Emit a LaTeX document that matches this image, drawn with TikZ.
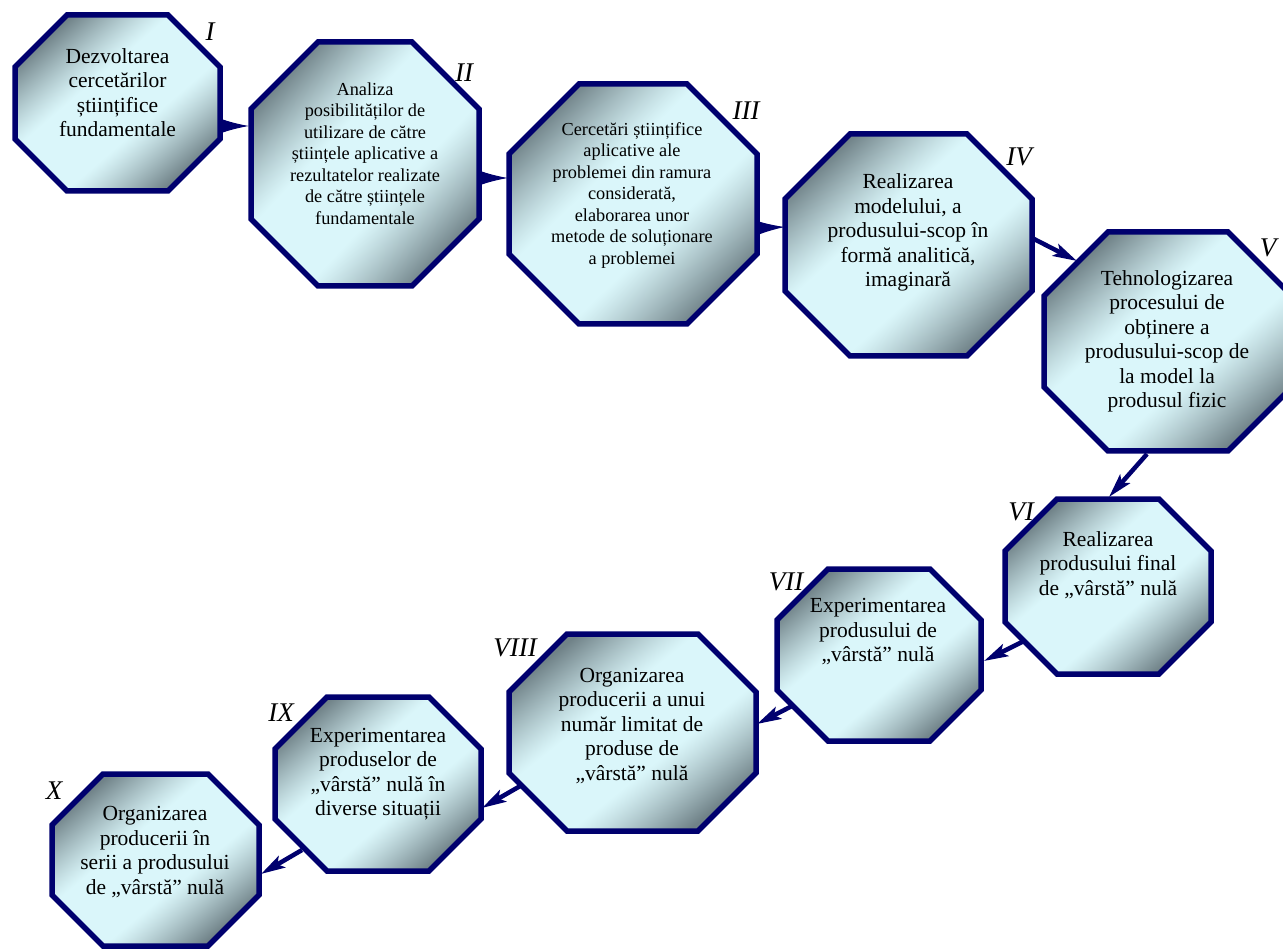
\documentclass[tikz,border=0pt]{standalone}
\usepackage{fontspec}
\setmainfont{Liberation Serif}
\usetikzlibrary{arrows.meta}
\definecolor{navy}{RGB}{0,0,110}
% light (218,246,250) -> dark (112,130,136) across the diagonal x-y
\pgfdeclarefunctionalshading{octsh}{\pgfpointorigin}{\pgfpoint{100bp}{100bp}}{}{
  sub abs 12 sub 24 div
  dup 0 lt {pop 0} if
  dup 1 gt {pop 1} if
  1.2 exp
  dup -0.416 mul 0.855 add
  exch
  dup -0.455 mul 0.965 add
  exch
  -0.447 mul 0.980 add
}
\newcommand\octo[5]{%
  \path[octbox] (#1+#5,#2) -- (#3-#5,#2) -- (#3,#2+#5) -- (#3,#4-#5) -- (#3-#5,#4) -- (#1+#5,#4) -- (#1,#4-#5) -- (#1,#2+#5) -- cycle;}
\tikzset{
  octbox/.style={draw=navy, line width=5.5pt, line join=miter, shading=octsh},
  bigtxt/.style={align=center, inner sep=0pt, font=\fontsize{21.5}{24.5}\selectfont},
  smalltxt/.style={align=center, inner sep=0pt, font=\fontsize{18.3}{21.5}\selectfont},
  numlab/.style={inner sep=0pt, font=\fontsize{27}{27}\selectfont\itshape},
  flatarrow/.style={draw=navy, line width=1pt, -{Latex[length=26pt,width=13pt]}, navy},
  diagarrow/.style={draw=navy, line width=4.5pt, -{Stealth[length=24pt,width=13pt,inset=5pt]}, navy}
}
\begin{document}
\begin{tikzpicture}[x=1pt,y=-1pt]
\useasboundingbox (0,0) rectangle (1283,949);
% octagons
\octo{15}{15}{220}{191}{52}
\octo{251}{42}{479}{286}{67}
\octo{509}{84}{757}{324}{70}
\octo{785}{134}{1032}{356}{65}
\octo{1044}{232}{1292}{451}{64}
\octo{1005}{499}{1211}{674}{52}
\octo{777}{569}{981}{741}{51}
\octo{509}{634}{756}{831}{58}
\octo{275}{697}{481}{871}{52}
\octo{52}{774}{259}{946}{51}
% texts
\node[bigtxt] (t1) at (117.5,92.5) {Dezvoltarea\\cercetărilor\\științifice\\fundamentale};
\node[smalltxt] (t2) at (365,153.5) {Analiza\\posibilităților de\\utilizare de către\\științele aplicative a\\rezultatelor realizate\\de către științele\\fundamentale};
\node[smalltxt] (t3) at (632,195.5) {Cercetări științifice\\aplicative ale\\problemei din ramura\\considerată,\\elaborarea unor\\metode de soluționare\\a problemei};
\node[bigtxt] (t4) at (908,232.5) {Realizarea\\modelului, a\\produsului-scop în\\formă analitică,\\imaginară};
\node[bigtxt] (t5) at (1167,341.5) {Tehnologizarea\\procesului de\\obținere a\\produsului-scop de\\la model la\\produsul fizic};
\node[bigtxt] (t6) at (1108,565) {Realizarea\\produsului final\\de „vârstă” nulă};
\node[bigtxt] (t7) at (878,632) {Experimentarea\\produsului de\\„vârstă” nulă};
\node[bigtxt] (t8) at (632,726) {Organizarea\\producerii a unui\\număr limitat de\\produse de\\„vârstă” nulă};
\node[bigtxt] (t9) at (378,774) {Experimentarea\\produselor de\\„vârstă” nulă în\\diverse situații};
\node[bigtxt] (t10) at (155,852) {Organizarea\\producerii în\\serii a produsului\\de „vârstă” nulă};
% labels
\node[numlab] (l1) at (210,32) {I};
\node[numlab] (l2) at (464,73) {II};
\node[numlab] (l3) at (746,111) {III};
\node[numlab] (l4) at (1019,157) {IV};
\node[numlab] (l5) at (1268,248) {V};
\node[numlab] (l6) at (1021,512) {VI};
\node[numlab] (l7) at (786,582) {VII};
\node[numlab] (l8) at (515,648) {VIII};
\node[numlab] (l9) at (281,713) {IX};
\node[numlab] (l10) at (54,791) {X};
% arrow end points
\coordinate (a1s) at (221,126); \coordinate (a1e) at (249,126);
\coordinate (a2s) at (480,178); \coordinate (a2e) at (508,178);
\coordinate (a3s) at (757,228); \coordinate (a3e) at (785,227);
\coordinate (a4s) at (1034,239); \coordinate (a4e) at (1077,261);
\coordinate (a5s) at (1147,454); \coordinate (a5e) at (1109,497);
\coordinate (a6s) at (1024,641); \coordinate (a6e) at (984,661);
\coordinate (a7s) at (794,705); \coordinate (a7e) at (757,724);
\coordinate (a8s) at (522,785); \coordinate (a8e) at (482,808);
\coordinate (a9s) at (302,850); \coordinate (a9e) at (261,874);
\draw[flatarrow] (a1s) -- (a1e);
\draw[flatarrow] (a2s) -- (a2e);
\draw[flatarrow] (a3s) -- (a3e);
\draw[diagarrow] (a4s) -- (a4e);
\draw[diagarrow] (a5s) -- (a5e);
\draw[diagarrow] (a6s) -- (a6e);
\draw[diagarrow] (a7s) -- (a7e);
\draw[diagarrow] (a8s) -- (a8e);
\draw[diagarrow] (a9s) -- (a9e);
\end{tikzpicture}
\end{document}
